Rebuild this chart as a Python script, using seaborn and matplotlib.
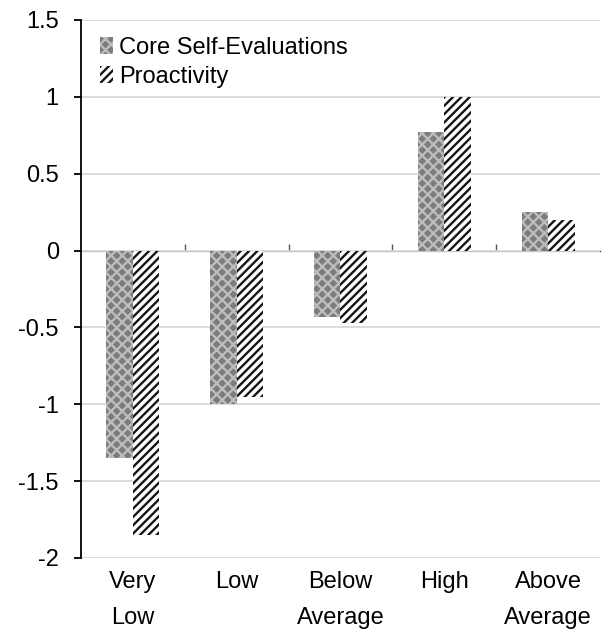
import pandas as pd
import numpy as np
import matplotlib.pyplot as plt
import seaborn as sns
from matplotlib.patches import Patch

# data
categories = ['Very\nLow', 'Low', 'Below\nAverage', 'High', 'Above\nAverage']
series = ['Core Self-Evaluations', 'Proactivity']
cse_values = [-1.35, -1.0, -0.43, 0.77, 0.25]
proactivity_values = [-1.85, -0.95, -0.47, 1.0, 0.2]
y_ticks = [-2, -1.5, -1, -0.5, 0, 0.5, 1, 1.5]
y_tick_labels = ['-2', '-1.5', '-1', '-0.5', '0', '0.5', '1', '1.5']

df = pd.DataFrame({
    'category': categories * 2,
    'series': [series[0]] * len(categories) + [series[1]] * len(categories),
    'value': cse_values + proactivity_values,
})

sns.set_style('white')
plt.rcParams['font.family'] = ['Liberation Sans', 'DejaVu Sans']
plt.rcParams['hatch.linewidth'] = 1.7
plt.rcParams['text.color'] = 'black'
plt.rcParams['xtick.color'] = 'black'
plt.rcParams['ytick.color'] = 'black'

fig = plt.figure(figsize=(6.07, 6.34), dpi=100)
ax = fig.add_axes([0.1334, 0.1199, 0.855, 0.8486])

sns.barplot(data=df, x='category', y='value', hue='series', order=categories,
            hue_order=series, width=0.51, gap=0, palette=['#8a8a8a', 'white'],
            ax=ax, legend=False)

# patterns: dotted grey for CSE, black diagonal stripes for proactivity
styles = [dict(face='#7c7c7c', edge='#bdbdbd', hatch='xxx'),
          dict(face='white', edge='#151515', hatch='////')]
for container, st in zip(ax.containers, styles):
    for bar in container:
        bar.set_facecolor(st['face'])
        bar.set_edgecolor(st['edge'])
        bar.set_hatch(st['hatch'])
        bar.set_linewidth(0)

ax.set_ylim(-2, 1.5)
ax.set_xlim(-0.5, len(categories) - 0.5)
ax.set_yticks(y_ticks)
ax.set_yticklabels(y_tick_labels, fontsize=17)
ax.yaxis.grid(True, color='#d9d9d9', linewidth=1.3)
ax.set_axisbelow(True)
ax.tick_params(axis='y', left=True, length=5, width=1.3, color='black', pad=11)
ax.tick_params(axis='x', bottom=False, labelsize=17, pad=6)
for lbl in ax.get_xticklabels():
    lbl.set_linespacing(1.8)
ax.set_xlabel('')
ax.set_ylabel('')

for side in ['top', 'right', 'bottom']:
    ax.spines[side].set_visible(False)
ax.spines['left'].set_color('black')
ax.spines['left'].set_linewidth(1.3)

# category axis sits at y = 0 with boundary ticks
zero_frac = (0 - (-2)) / 3.5
sec = ax.secondary_xaxis(zero_frac)
sec.set_xticks(np.arange(len(categories) - 1) + 0.5)
sec.set_xticklabels([])
sec.tick_params(length=5, width=1.0, color='#555555', direction='out')
sec.spines['bottom'].set_color('#c8c8c8')
sec.spines['bottom'].set_linewidth(1.3)

# legend
handles = [Patch(facecolor=s['face'], edgecolor=s['edge'], hatch=s['hatch'], linewidth=0)
           for s in styles]
ax.legend(handles, series, loc='upper left', bbox_to_anchor=(0.01, 0.995), frameon=False,
          fontsize=17, handlelength=0.55, handleheight=0.7, handletextpad=0.25,
          labelspacing=0.3, borderaxespad=0.2)

fig.savefig('out.png', dpi=100)
